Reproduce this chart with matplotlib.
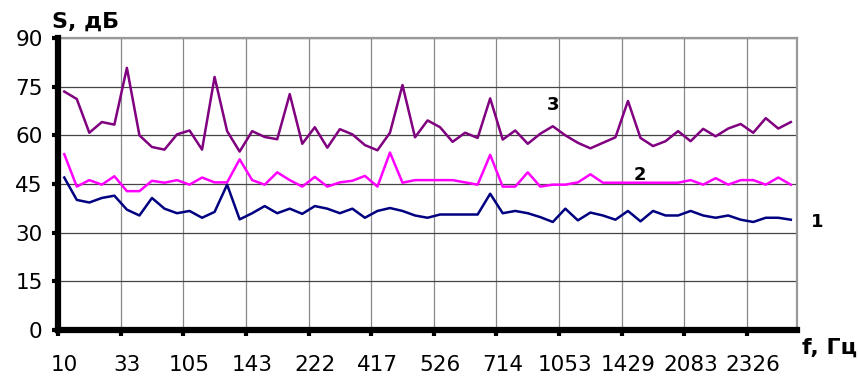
import matplotlib.pyplot as plt
import numpy as np

# tick labels on the frequency axis (every 5th category)
freq_labels = ["10", "33", "105", "143", "222", "417", "526", "714",
               "1053", "1429", "2083", "2326"]

# curve 1 (navy)
s1 = [47, 40.1, 39.3, 40.7, 41.4, 37.1, 35.3, 40.7, 37.4, 36,
      36.7, 34.6, 36.4, 44.8, 34.1, 36, 38.2, 36, 37.4, 35.8,
      38.2, 37.4, 36, 37.4, 34.6, 36.7, 37.6, 36.7, 35.3, 34.6,
      35.6, 35.6, 35.6, 35.6, 42, 36, 36.7, 36, 34.8, 33.3,
      37.4, 33.8, 36.2, 35.3, 34, 36.7, 33.5, 36.7, 35.3, 35.3,
      36.7, 35.3, 34.6, 35.3, 34, 33.3, 34.6, 34.6, 34]

# curve 2 (magenta)
s2 = [54.2, 44.2, 46.2, 44.8, 47.4, 42.8, 42.8, 46, 45.4, 46.2,
      44.8, 47, 45.5, 45.5, 52.6, 46.2, 44.8, 48.6, 46.2, 44.2,
      47.2, 44.2, 45.5, 46, 47.5, 44.2, 54.7, 45.4, 46.2, 46.2,
      46.2, 46.2, 45.5, 44.8, 54, 44.2, 44.2, 48.6, 44.2, 44.8,
      44.8, 45.5, 48, 45.4, 45.4, 45.4, 45.4, 45.4, 45.4, 45.4,
      46.2, 44.8, 46.8, 44.8, 46.2, 46.2, 44.8, 47, 44.8]

# curve 3 (purple)
s3 = [73.5, 71.2, 60.8, 64.1, 63.3, 80.8, 60, 56.4, 55.6, 60.3,
      61.5, 55.6, 78, 61.3, 55, 61.3, 59.5, 58.8, 72.7, 57.4,
      62.5, 56.2, 61.9, 60.3, 57, 55.4, 60.8, 75.5, 59.4, 64.6,
      62.5, 58, 60.8, 59.2, 71.4, 58.7, 61.5, 57.4, 60.5, 62.8,
      60, 57.7, 56, 57.7, 59.4, 70.6, 59.2, 56.7, 58.2, 61.3,
      58.2, 62, 59.7, 62.1, 63.5, 60.8, 65.3, 62.1, 64.1]

x = np.arange(len(s1))

fig = plt.figure(figsize=(8.58, 3.76), dpi=100)
ax = fig.add_axes([0.0676, 0.1223, 0.8614, 0.7766])

ax.plot(x, s3, color="#800080", lw=1.8)
ax.plot(x, s2, color="#FF00FF", lw=1.8)
ax.plot(x, s1, color="#000080", lw=1.8)

ax.set_xlim(-0.5, len(s1) - 0.5)
ax.set_ylim(0, 90)

# gridlines / tick marks between categories, labels on every 5th category
ax.set_xticks(np.arange(-0.5, len(s1), 5))
ax.set_xticklabels([])
ax.set_xticks(np.arange(0, len(s1), 5)[:len(freq_labels)], minor=True)
ax.set_xticklabels(freq_labels, minor=True, fontsize=15.5)
ax.tick_params(axis="x", which="major", direction="out", length=4, width=3, color="black")
ax.tick_params(axis="x", which="minor", length=0, pad=18)

ax.set_yticks(np.arange(0, 91, 15))
ax.tick_params(axis="y", direction="out", length=4, width=3, labelsize=15.5, pad=7)

ax.grid(axis="y", color="#444444", lw=0.9)
ax.grid(axis="x", which="major", color="#888888", lw=0.9)
ax.set_axisbelow(True)

for side in ["left", "bottom"]:
    ax.spines[side].set_linewidth(4.5)
    ax.spines[side].set_color("black")
    ax.spines[side].set_zorder(5)
for side in ["top", "right"]:
    ax.spines[side].set_linewidth(1.6)
    ax.spines[side].set_color("#999999")

fig.text(52 / 858, 1 - 22 / 376, "S, дБ", fontsize=16, fontweight="bold",
         ha="left", va="center")
fig.text(802 / 858, 1 - 348 / 376, "f, Гц", fontsize=16, fontweight="bold",
         ha="left", va="center")

fig.text(553 / 858, 1 - 105 / 376, "3", fontsize=13, fontweight="bold",
         ha="center", va="center")
fig.text(640 / 858, 1 - 175 / 376, "2", fontsize=13, fontweight="bold",
         ha="center", va="center")
fig.text(817 / 858, 1 - 222 / 376, "1", fontsize=13, fontweight="bold",
         ha="center", va="center")

fig.savefig("out.png", dpi=100)
